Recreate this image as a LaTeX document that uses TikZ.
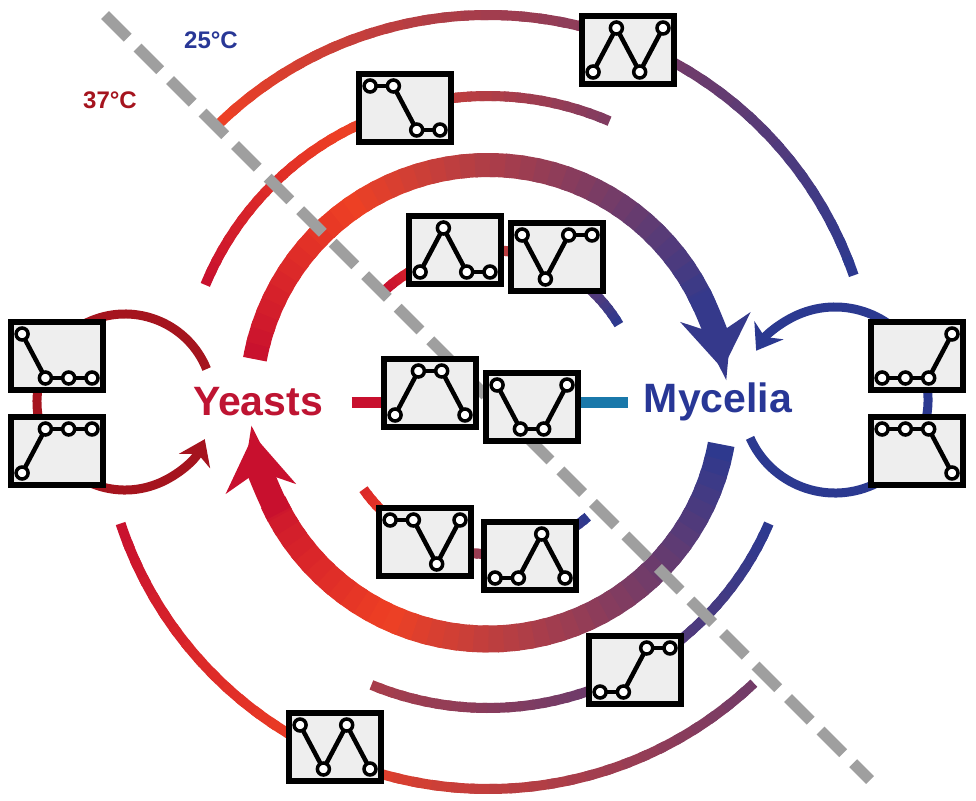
\documentclass[tikz,border=0pt]{standalone}
\usepackage{fontspec}
\setmainfont{Liberation Sans}
\usetikzlibrary{arrows.meta,calc}
\definecolor{crim}{RGB}{200,16,46}
\definecolor{ora}{RGB}{238,64,36}
\definecolor{blu}{RGB}{43,57,144}
\definecolor{loopred}{RGB}{165,20,30}
\definecolor{tealc}{RGB}{25,120,170}
\definecolor{yeastc}{RGB}{190,20,50}
\definecolor{myc}{RGB}{40,55,150}

% radius, start angle, end angle, start tone, end tone, width
\newcommand\gradarc[6]{%
  \foreach \i in {0,...,39}{
    \pgfmathsetmacro\aa{#2+(#3-#2)*\i/40}
    \pgfmathsetmacro\ab{#2+(#3-#2)*min(\i+1.4,40)/40}
    \pgfmathsetmacro\tt{#4+(#5-#4)*(\i+0.5)/40}
    \pgfmathsetmacro\pa{min(100,\tt/0.3*100)}
    \pgfmathsetmacro\pb{max(0,(\tt-0.3)/0.7*100)}
    \colorlet{segc}{ora!\pa!crim}\colorlet{segc}{blu!\pb!segc}
    \draw[line width=#6,segc] (C) ++(\aa:#1) arc[start angle=\aa,end angle=\ab,radius=#1];
  }}
% name, x, y, levels
\newcommand\trend[4]{%
  \node[trendbox] (#1) at (#2,#3) {};
  \foreach \l [count=\k, remember=\l as \lp (initially 0)] in {#4}{
    \ifnum\k>1
      \draw[line width=4.5pt] (#2+\k*23.3-81.5,#3+22-44*\lp) -- (#2+\k*23.3-58.2,#3+22-44*\l);
    \fi
  }
  \foreach \l [count=\k] in {#4}{
    \draw[line width=3.5pt,fill=white] (#2+\k*23.3-58.2,#3+22-44*\l) circle (6);
  }}

\tikzset{
  trendbox/.style={draw,line width=6pt,fill=gray!13,minimum width=92pt,minimum height=68pt,inner sep=0pt},
  label/.style={font=\bfseries\fontsize{41}{41}\selectfont},
  temp/.style={font=\bfseries\fontsize{24}{24}\selectfont},
}

\begin{document}
\begin{tikzpicture}[x=1pt,y=-1pt]
  \useasboundingbox (0,0) rectangle (976,800);
  \coordinate (C) at (488,402);

  \node[label,yeastc] (Y) at (258,402) {Yeasts};
  \node[label,myc] (M) at (718,402) {Mycelia};
  \node[temp,myc] (T25) at (211,40) {25°C};
  \node[temp,loopred] (T37) at (110,100) {37°C};

  % upper arcs
  \gradarc{387}{-134.3}{-19.1}{0.3}{1}{10pt}
  \gradarc{306}{-157.5}{-66.6}{0}{0.7}{10pt}
  \gradarc{152}{-132}{-30.6}{0}{1}{10pt}
  \gradarc{237}{-169.6}{-24}{0}{0.97}{24pt}
  \draw[line width=24pt,blu!95!ora,-{Stealth[length=52pt,width=70pt]}] (C) ++(-27:237) arc[start angle=-27,end angle=-8,radius=237];

  % lower arcs
  \gradarc{387}{161.7}{46.6}{0}{0.75}{10pt}
  \gradarc{306}{23.4}{112.4}{1}{0.55}{10pt}
  \gradarc{152}{145}{49}{0.15}{1}{10pt}
  \gradarc{237}{10.3}{155}{1}{0.03}{27pt}
  \draw[line width=26pt,crim,-{Stealth[length=54pt,width=70pt]}] (C) ++(152:237) arc[start angle=152,end angle=172,radius=237];

  % loops
  \draw[line width=9pt,loopred,-{Stealth[length=24pt,width=34pt]}] (125,402) ++(-22:88) arc[start angle=-22,end angle=-335,radius=88];
  \draw[line width=9pt,blu,-{Stealth[length=24pt,width=34pt]}] (835,400) ++(156:93) arc[start angle=156,end angle=-148,radius=93];

  \draw[line width=11pt,gray!75,dash pattern=on 32pt off 14pt] (105,15) -- (870,780);

  \trend{B1}{57}{356}{1,0,0,0}
  \trend{B2}{57}{451}{0,1,1,1}
  \trend{B3}{917}{356}{0,0,0,1}
  \trend{B4}{917}{451}{1,1,1,0}
  \trend{B5}{405}{108}{1,1,0,0}
  \trend{B6}{628}{50}{0,1,0,1}
  \trend{B7}{455}{250}{0,1,0,0}
  \trend{B8}{557}{257}{1,0,1,1}
  \trend{B11}{425}{542}{1,1,0,1}
  \trend{B12}{530}{556}{0,0,1,0}
  \trend{B13}{635}{670}{0,0,1,1}
  \trend{B14}{335}{747}{1,0,1,0}

  \draw[line width=11pt,crim] ([xshift=25pt]Y.east) -- (430,402);
  \draw[line width=11pt,tealc] (532,402) -- ([xshift=-12pt]M.west);
  \trend{B9}{430}{393}{0,1,1,0}
  \trend{B10}{532}{407}{1,0,0,1}
\end{tikzpicture}
\end{document}
